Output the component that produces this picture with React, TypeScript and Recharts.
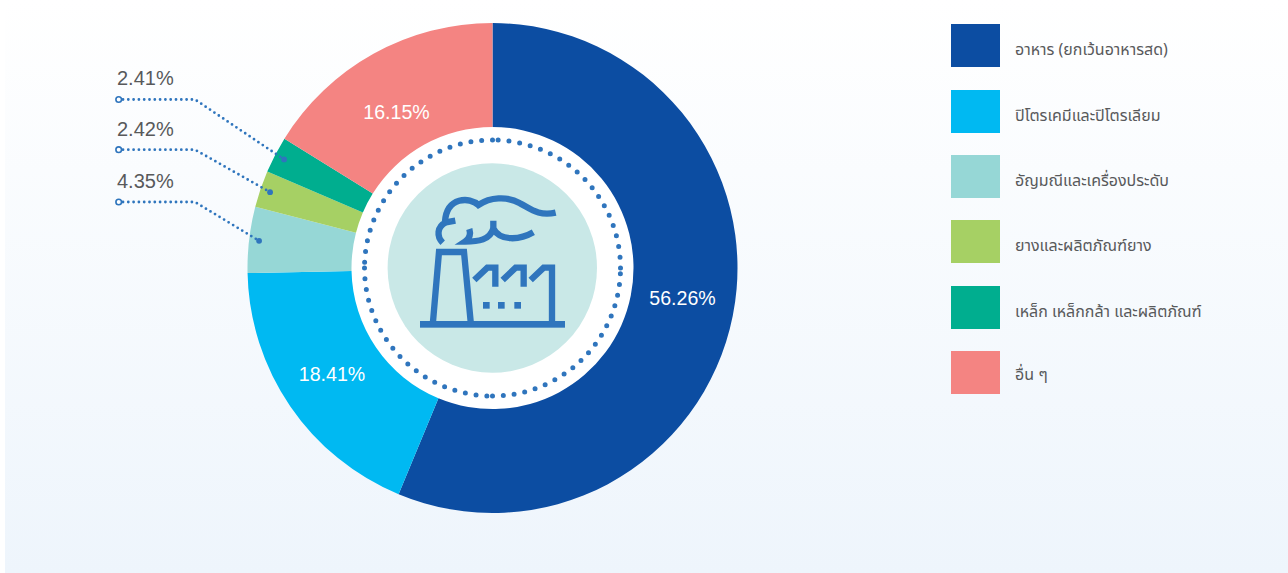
import React from "react";
import { PieChart, Pie, Legend } from "recharts";

const categories = ["อาหาร (ยกเว้นอาหารสด)", "ปิโตรเคมีและปิโตรเลียม", "อัญมณีและเครื่องประดับ", "ยางและผลิตภัณฑ์ยาง", "เหล็ก เหล็กกล้า และผลิตภัณฑ์", "อื่น ๆ"];
const shares = [56.26, 18.41, 4.35, 2.42, 2.41, 16.15];
const colors = ["#0c4da2", "#00b9f2", "#96d7d6", "#a6d064", "#00ae8f", "#f48482"];
const data = categories.map((name, i) => ({ name, value: shares[i], fill: colors[i] }));

const LABEL_FONT = '"Liberation Sans", Arial, sans-serif';
const BLUE = "#2f75bd";
const GREY = "#58595b";
const RAD = Math.PI / 180;
const CX = 492.5;
const CY = 268;

// callout layout per slice index: anchor start x / y of the leader and text
const callouts: Record<number, { y: number; textY: number }> = {
  2: { y: 202, textY: 188 },
  3: { y: 149.7, textY: 136 },
  4: { y: 99.5, textY: 85 },
};
const insideLabels: Record<number, { x: number; y: number }> = {
  0: { x: 682.5, y: 298 },
  1: { x: 332, y: 374 },
  5: { x: 396.5, y: 112 },
};

function renderLabel(props: any) {
  const { cx, cy, midAngle, index, value } = props;
  const text = `${Number(value).toFixed(2)}%`;
  const inside = insideLabels[index];
  if (inside) {
    return (
      <text x={inside.x} y={inside.y} fill="#ffffff" fontSize={19.6} fontFamily={LABEL_FONT} textAnchor="middle" dominantBaseline="central">
        {text}
      </text>
    );
  }
  const c = callouts[index];
  const px = cx + 235 * Math.cos(-midAngle * RAD);
  const py = cy + 235 * Math.sin(-midAngle * RAD);
  return (
    <g>
      <text x={117} y={c.textY} fill={GREY} fontSize={20} fontFamily={LABEL_FONT}>
        {text}
      </text>
      <path d={`M123 ${c.y} L195 ${c.y} L${px} ${py}`} fill="none" stroke={BLUE} strokeWidth={2.8} strokeLinecap="round" strokeDasharray="0 5.3" />
      <circle cx={118.7} cy={c.y} r={2.8} fill="#ffffff" stroke={BLUE} strokeWidth={1.6} />
      <circle cx={px} cy={py} r={2.9} fill={BLUE} />
    </g>
  );
}

function renderLegend(props: any) {
  const items = props.payload || [];
  return (
    <div style={{ position: "relative", width: 300, height: 372 }}>
      {items.map((it: any, i: number) => {
        const top = [0, 66, 131, 196, 262, 327][i];
        const textShift = i === 5 ? 2 : 4.5;
        return (
          <div key={i} style={{ position: "absolute", left: 0, top, display: "flex", alignItems: "center" }}>
            <div style={{ width: 49, height: 43, background: it.color }} />
            <span style={{ marginLeft: 15, position: "relative", top: textShift, fontFamily: '"Noto Sans", "Noto Sans Thai", sans-serif', fontSize: 16, color: GREY, whiteSpace: "nowrap" }}>{it.value}</span>
          </div>
        );
      })}
    </div>
  );
}

const quarterPaths = [0, 90, 180, 270].map((deg) => {
  const r = 128;
  const a = (deg * Math.PI) / 180;
  const b = ((deg - 90) * Math.PI) / 180;
  return `M${CX + r * Math.sin(a)} ${CY - r * Math.cos(a)} A${r} ${r} 0 0 0 ${CX + r * Math.sin(b)} ${CY - r * Math.cos(b)}`;
});

function FactoryIcon() {
  return (
    <g>
      <circle cx={CX} cy={CY} r={141.7} fill="#ffffff" />
      {quarterPaths.map((d, i) => (
        <path key={i} d={d} fill="none" stroke={BLUE} strokeWidth={5} strokeLinecap="round" strokeDasharray="0 10.85" />
      ))}
      <circle cx={492.3} cy={268} r={104.7} fill="#c9e8e7" />
      <g transform="translate(350 125) scale(0.33333)" fill="none" stroke={BLUE} strokeWidth={19}>
        <rect x={210} y={588} width={435} height={20} fill={BLUE} stroke="none" />
        <path d="M249 590 L267 381 L342 381 L362 590" />
        <path d="M373 465 L412 428 L436 428 L436 485" />
        <path d="M458 465 L497 428 L521 428 L521 485" />
        <path d="M542 465 L581 428 L606 428 L606 590" />
        <rect x={399} y={531} width={20} height={20} fill={BLUE} stroke="none" />
        <rect x={444} y={531} width={20} height={20} fill={BLUE} stroke="none" />
        <rect x={493} y={531} width={20} height={20} fill={BLUE} stroke="none" />
        <path d="M617 263 C565 275 540 250 510 235 C470 212 420 217 385 240 C360 215 290 215 285 290" />
        <path d="M316 287 L288 292 C260 305 260 335 278 353" />
        <path d="M550 322 C510 345 450 350 430 310 L430 287" />
        <path d="M430 310 C420 345 385 350 345 350 C360 340 362 325 358 312" />
      </g>
    </g>
  );
}

export default function App() {
  return (
    <div style={{ position: "absolute", left: 0, top: 0, width: 1288, height: 573, background: "#ffffff", overflow: "hidden" }}>
      <div style={{ position: "absolute", left: 5, top: 0, right: 0, bottom: 0, background: "linear-gradient(#ffffff 0%, #eef5fc 100%)" }} />
      <div style={{ position: "absolute", left: 0, top: 0 }}>
        <PieChart width={1288} height={573} margin={{ top: 0, right: 0, bottom: 0, left: 0 }}>
          <Pie
            data={data}
            dataKey="value"
            nameKey="name"
            cx={CX}
            cy={CY}
            innerRadius={141}
            outerRadius={245}
            startAngle={90}
            endAngle={-270}
            stroke="none"
            isAnimationActive={false}
            label={renderLabel}
            labelLine={false}
          />
          <FactoryIcon />
          <Legend layout="vertical" content={renderLegend} itemSorter={null as any} wrapperStyle={{ left: 951, top: 24, width: 300 }} />
        </PieChart>
      </div>
    </div>
  );
}
